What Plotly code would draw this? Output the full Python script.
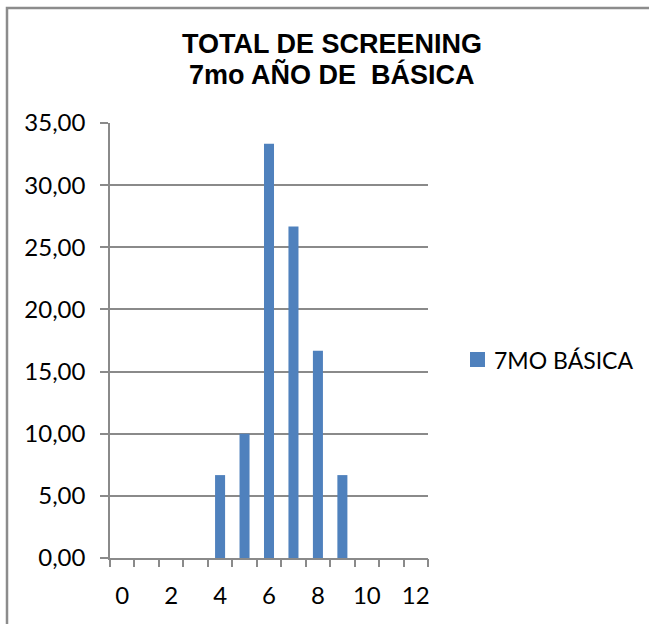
import plotly.graph_objects as go

# Screening scores (categories 0..12) and percentage of students per score
categories = list(range(13))
values = [0, 0, 0, 0, 6.67, 10.0, 33.33, 26.67, 16.67, 6.67, 0, 0, 0]
x_tick_labels = [0, 2, 4, 6, 8, 10, 12]
y_ticks = [0, 5, 10, 15, 20, 25, 30, 35]
series_name = "7MO BÁSICA"
title_lines = ["TOTAL DE SCREENING", "7mo AÑO DE\u00a0 BÁSICA"]

W, H = 649, 624
L, R, T, B = 110, 221, 123, 66
GRID = "#8a8a8a"
BAR = "#4f81bd"
FONT = "Lato"
FS = 24

fig = go.Figure()
fig.add_trace(go.Bar(
    x=categories, y=values, name=series_name,
    marker=dict(color=BAR, line=dict(width=0)),
    width=0.41, showlegend=False,
))
# helper trace carrying the boundary tick axis
fig.add_trace(go.Scatter(x=[-0.5, 12.5], y=[0, 0], xaxis="x2", mode="lines",
                         line=dict(width=0), hoverinfo="skip", showlegend=False))

fig.update_layout(
    width=W, height=H,
    margin=dict(l=L, r=R, t=T, b=B, autoexpand=False),
    paper_bgcolor="white", plot_bgcolor="white",
    separators=",.",
    font=dict(family=FONT, size=FS, color="#000000"),
    xaxis=dict(
        range=[-0.5, 12.5], tickvals=x_tick_labels,
        ticktext=[str(v) for v in x_tick_labels],
        ticks="", showgrid=False, zeroline=False,
        showline=True, linecolor=GRID, linewidth=1.5,
        tickfont=dict(family=FONT, size=FS), ticklabelstandoff=15,
    ),
    xaxis2=dict(
        overlaying="x", anchor="y", side="bottom",
        range=[-0.5, 12.5], tickvals=[c - 0.5 for c in categories] + [12.5],
        ticks="outside", ticklen=8, tickcolor=GRID, tickwidth=1.5,
        showticklabels=False, showgrid=False, zeroline=False, showline=False,
    ),
    yaxis=dict(
        range=[0, 35], tickvals=y_ticks, tickformat=".2f",
        ticks="outside", ticklen=8, tickcolor=GRID, tickwidth=1.5,
        showgrid=True, gridcolor=GRID, gridwidth=1.5,
        zeroline=False, showline=True, linecolor=GRID, linewidth=1.5,
        tickfont=dict(family=FONT, size=FS), ticklabelstandoff=10,
    ),
    showlegend=False,
)

pw, ph = W - L - R, H - T - B


def px_x(v):
    return (v - L) / pw


def px_y(v):
    return (H - B - v) / ph


# chart title, two centred bold lines
for text, py in zip(title_lines, [44, 74]):
    fig.add_annotation(
        text="<b>%s</b>" % text, showarrow=False,
        xref="paper", yref="paper",
        x=px_x(331.5), y=px_y(py),
        xanchor="center", yanchor="middle",
        font=dict(family="Liberation Sans", size=27, color="#000000"),
    )

# legend: swatch plus series name
fig.add_shape(type="rect", xref="paper", yref="paper",
              x0=px_x(470), x1=px_x(485), y0=px_y(352), y1=px_y(367),
              fillcolor=BAR, line=dict(width=0))
fig.add_annotation(
    text=series_name, showarrow=False, xref="paper", yref="paper",
    x=px_x(492), y=px_y(359.5), xanchor="left", yanchor="middle",
    font=dict(family=FONT, size=23, color="#000000"),
)

# chart area frame: left and top edges as one open path
fx0, fy1 = px_x(7), px_y(8)
fy0, fx1 = px_y(H), px_x(W)
fig.add_shape(type="path", xref="paper", yref="paper",
              path="M %f,%f L %f,%f L %f,%f" % (fx0, fy0, fx0, fy1, fx1, fy1),
              line=dict(color="#8c8c8c", width=2.5))

fig.write_html("out.html", config={"displayModeBar": False})
